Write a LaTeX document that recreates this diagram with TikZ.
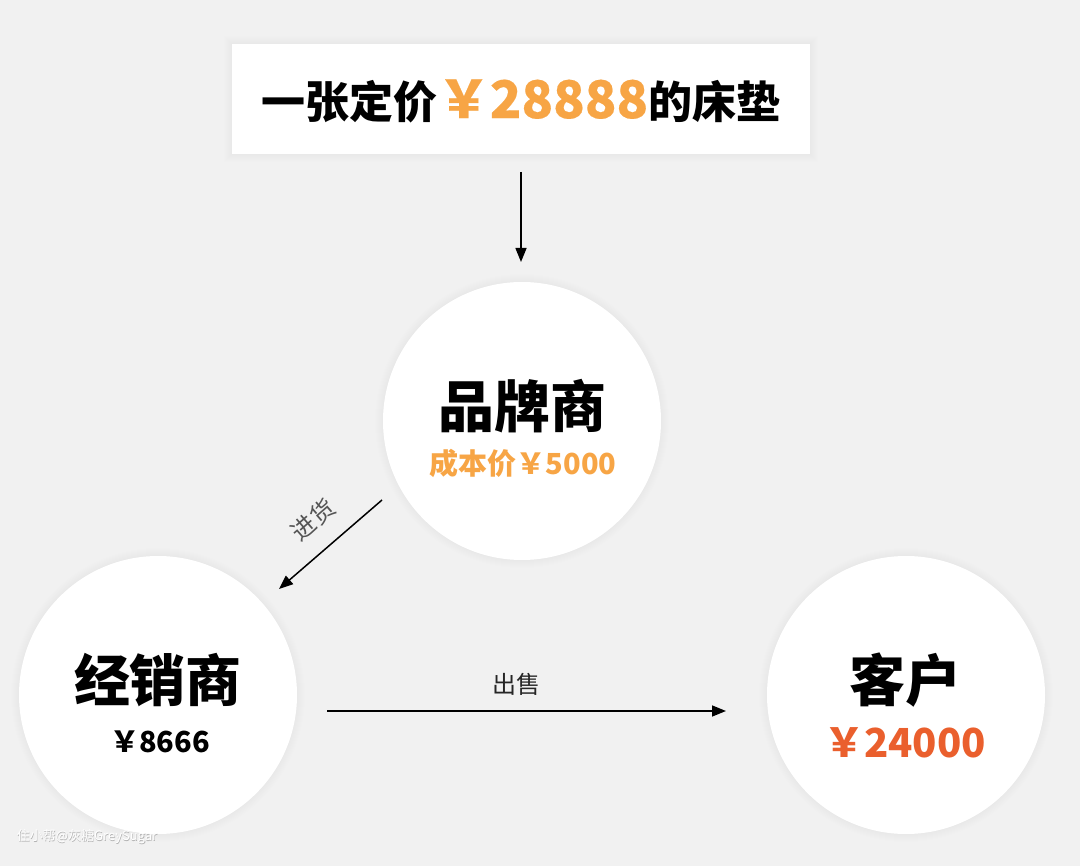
\documentclass[tikz,border=0pt]{standalone}
\usepackage{fontspec}
\newfontfamily\cjk{Noto Sans CJK SC}
\newfontfamily\cjkmd{Noto Sans CJK SC}[FakeBold=0.3]
\usetikzlibrary{arrows.meta}
\definecolor{bg}{HTML}{F1F1F1}
\definecolor{orng}{HTML}{F7A545}
\definecolor{redo}{HTML}{EA5F2D}
\definecolor{lblgray}{HTML}{555555}
\tikzset{
  disc/.style={circle,fill=white,minimum size=278pt,inner sep=0pt},
  big/.style={font=\cjk\bfseries\fontsize{56}{60}\selectfont},
  sub/.style={font=\cjk\bfseries\fontsize{29}{32}\selectfont},
  lbl/.style={font=\cjk\fontsize{24}{26}\selectfont},
  conn/.style={line width=1.5pt,-{Triangle[length=14pt,width=11pt]}},
}
\begin{document}
\begin{tikzpicture}[x=1pt,y=-1pt]
\fill[bg] (0,0) rectangle (1080,866);
\useasboundingbox (0,0) rectangle (1080,866);
% soft shadows
\foreach \i in {1,...,8}{
  \fill[black,opacity=0.0025] (232-\i,44-\i) rectangle (810+\i,154+\i);
  \fill[black,opacity=0.0025] (522,421) circle ({139+\i});
  \fill[black,opacity=0.0025] (158,695) circle ({139+\i});
  \fill[black,opacity=0.0025] (906,695) circle ({139+\i});
}
% title box
\node[fill=white,minimum width=578pt,minimum height=110pt,inner sep=0pt] (box) at (521,99) {};
\node[font=\cjk\bfseries\fontsize{44}{48}\selectfont,inner sep=0pt] (title) at (521,101)
  {一张定价\textcolor{orng}{\cjkmd\fontsize{52}{54}\selectfont ￥28888}的床垫};
% circles
\node[disc] (brand) at (522,421) {};
\node[disc] (dealer) at (158,695) {};
\node[disc] (client) at (906,695) {};
\node[big] (brandt) at (522,406) {品牌商};
\node[sub,text=orng] (brandp) at (523,463) {成本价￥5000};
\node[big] (dealert) at (158,680) {经销商};
\node[sub] (dealerp) at (160,742) {￥8666};
\node[big] (clientt) at (905,680) {客户};
\node[font=\cjk\bfseries\fontsize{40}{44}\selectfont,text=redo] (clientp) at (905,743) {￥24000};
% connectors
\coordinate (d1) at (521,172);
\coordinate (d2) at (521,262);
\draw[conn] (d1) -- (d2);
\coordinate (j1) at (382,500);
\coordinate (j2) at (279,589);
\draw[conn] (j1) -- (j2);
\node[lbl,text=lblgray,rotate=41,inner sep=1pt] (jlbl) at (313,520) {进货};
\coordinate (s1) at (327,711);
\coordinate (s2) at (726,711);
\draw[conn] (s1) -- (s2);
\node[lbl,text=black!85] (slbl) at (516,684) {出售};
% watermark
\node[font=\cjk\fontsize{13}{14}\selectfont,text=black!30,inner sep=0pt] (wm) at (87.6,837.6) {住小帮@灰糖GreySugar};
\node[font=\cjk\fontsize{13}{14}\selectfont,text=white,inner sep=0pt] at (wm.center) [xshift=-0.6pt,yshift=0.6pt] {住小帮@灰糖GreySugar};
\end{tikzpicture}
\end{document}
